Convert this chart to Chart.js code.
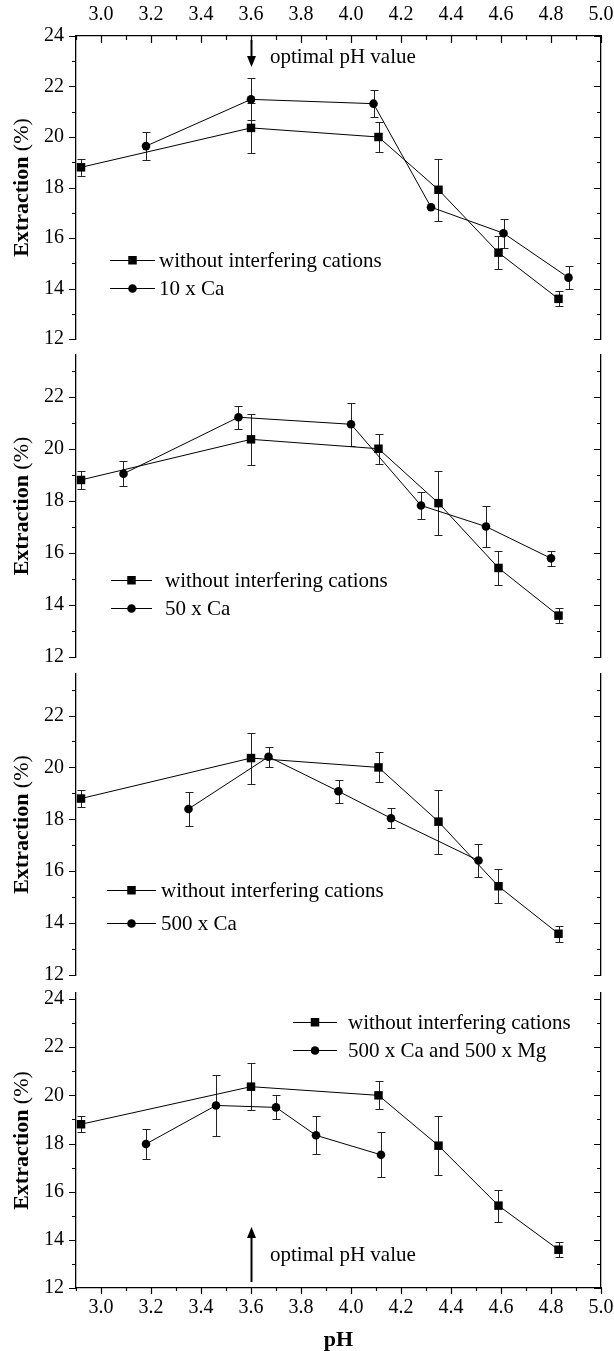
<!DOCTYPE html>
<html lang="en">
<head>
<meta charset="UTF-8">
<title>Extraction vs pH</title>
<script src="https://cdn.jsdelivr.net/npm/chart.js"></script>
<style>
  body { margin: 0; background: #fff; }
  #wrap { position: relative; width: 614px; height: 1351px; overflow: hidden; }
  canvas { position: absolute; left: 0; }
</style>
</head>
<body>
<div id="wrap">
  <canvas id="p1" width="614" height="350" style="top:0px"></canvas>
  <canvas id="p2" width="614" height="320" style="top:345px"></canvas>
  <canvas id="p3" width="614" height="320" style="top:664px"></canvas>
  <canvas id="p4" width="614" height="368" style="top:983px"></canvas>
</div>
<script>
// axis ticks
const phTicks = [3.0, 3.2, 3.4, 3.6, 3.8, 4.0, 4.2, 4.4, 4.6, 4.8, 5.0];
const extTicks = [12, 14, 16, 18, 20, 22, 24];

// reference series, same in every panel
const phBase  = [2.92, 3.60, 4.11, 4.35, 4.59, 4.83];
const extBase = [18.80, 20.36, 20.00, 17.91, 15.42, 13.59];
const errBase = [0.33, 0.98, 0.58, 1.23, 0.66, 0.30];

// 10 x Ca
const ph10Ca  = [3.18, 3.60, 4.09, 4.32, 4.61, 4.87];
const ext10Ca = [19.64, 21.49, 21.32, 17.22, 16.19, 14.43];
const err10Ca = [0.56, 0.83, 0.54, 0, 0.58, 0.46];

// 50 x Ca
const ph50Ca  = [3.09, 3.55, 4.00, 4.28, 4.54, 4.80];
const ext50Ca = [19.04, 21.21, 20.94, 17.82, 17.01, 15.79];
const err50Ca = [0.48, 0.45, 0.82, 0.51, 0.80, 0.28];

// 500 x Ca
const ph500Ca  = [3.35, 3.67, 3.95, 4.16, 4.51];
const ext500Ca = [18.40, 20.41, 19.08, 18.04, 16.41];
const err500Ca = [0.65, 0.38, 0.45, 0.38, 0.63];

// 500 x Ca and 500 x Mg
const ph500CaMg  = [3.18, 3.46, 3.70, 3.86, 4.12];
const ext500CaMg = [17.98, 19.58, 19.50, 18.34, 17.53];
const err500CaMg = [0.63, 1.28, 0.50, 0.79, 0.93];

const FONT = "'Liberation Serif', 'Times New Roman', serif";
const tickFont = { family: FONT, size: 20 };

function points(xs, ys) {
    return xs.map((x, i) => ({ x: x, y: ys[i] }));
}

// error bars under the markers
const errorBars = {
    id: 'errorBars',
    beforeDatasetsDraw(chart) {
        const { ctx, scales: { x, y } } = chart;
        ctx.save();
        ctx.strokeStyle = '#222';
        ctx.lineWidth = 1;
        chart.data.datasets.forEach(ds => {
            ds.data.forEach((p, i) => {
                const e = ds.errors[i];
                if (!e) return;
                const px = Math.round(x.getPixelForValue(p.x)) + 0.5;
                const t = Math.round(y.getPixelForValue(p.y + e)) + 0.5;
                const b = Math.round(y.getPixelForValue(p.y - e)) + 0.5;
                ctx.beginPath();
                ctx.moveTo(px, t); ctx.lineTo(px, b);
                ctx.moveTo(px - 4, t); ctx.lineTo(px + 4, t);
                ctx.moveTo(px - 4, b); ctx.lineTo(px + 4, b);
                ctx.stroke();
            });
        });
        ctx.restore();
    }
};

// major / minor tick marks on the frame
const frameTicks = {
    id: 'frameTicks',
    afterDraw(chart, args, opts) {
        const { ctx, chartArea: a, scales: { x, y } } = chart;
        ctx.save();
        ctx.strokeStyle = '#000';
        ctx.lineWidth = 1.2;
        ctx.beginPath();
        for (let v = Math.ceil(y.min); v <= y.max + 1e-9; v++) {
            const py = Math.round(y.getPixelForValue(v)) + 0.5;
            const len = v % 2 === 0 ? 7 : 4;
            ctx.moveTo(a.left - len, py); ctx.lineTo(a.left, py);
            ctx.moveTo(a.right - len, py); ctx.lineTo(a.right, py);
        }
        for (let i = 29; i <= 50; i++) {
            const px = Math.round(x.getPixelForValue(i / 10)) + 0.5;
            const len = i % 2 === 0 ? 7 : 4;
            if (opts.top) { ctx.moveTo(px, a.top); ctx.lineTo(px, a.top + len); }
            if (opts.bottom) { ctx.moveTo(px, a.bottom); ctx.lineTo(px, a.bottom + len - 1); }
        }
        ctx.stroke();
        ctx.restore();
    }
};

// "Extraction (%)" with bold word and plain unit
const yTitle = {
    id: 'yTitle',
    afterDraw(chart) {
        const { ctx, chartArea: a } = chart;
        const bold = 'bold 22px ' + FONT, plain = '22px ' + FONT;
        ctx.save();
        ctx.translate(22, (a.top + a.bottom) / 2);
        ctx.rotate(-Math.PI / 2);
        ctx.fillStyle = '#000';
        ctx.textBaseline = 'middle';
        ctx.font = bold;
        const w1 = ctx.measureText('Extraction ').width;
        ctx.font = plain;
        const w2 = ctx.measureText('(%)').width;
        let x0 = -(w1 + w2) / 2;
        ctx.font = bold;
        ctx.fillText('Extraction ', x0, 0);
        ctx.font = plain;
        ctx.fillText('(%)', x0 + w1, 0);
        ctx.restore();
    }
};

// legend: line with marker, then label
const lineLegend = {
    id: 'lineLegend',
    afterDraw(chart, args, o) {
        const ctx = chart.ctx;
        ctx.save();
        ctx.fillStyle = '#000';
        ctx.strokeStyle = '#000';
        ctx.font = '21px ' + FONT;
        ctx.textBaseline = 'middle';
        chart.data.datasets.forEach((ds, i) => {
            const yy = o.y + i * o.gap;
            const mx = o.x + o.len / 2;
            ctx.lineWidth = 1;
            ctx.beginPath();
            ctx.moveTo(o.x, yy + 0.5); ctx.lineTo(o.x + o.len, yy + 0.5);
            ctx.stroke();
            ctx.beginPath();
            if (ds.pointStyle === 'rect') {
                ctx.rect(mx - 4.25, yy - 4, 8.5, 8.5);
            } else {
                ctx.arc(mx, yy + 0.5, 4.3, 0, Math.PI * 2);
            }
            ctx.fill();
            ctx.fillText(ds.label, o.text, yy + 1);
        });
        ctx.restore();
    }
};

// "optimal pH value" arrow
const phNote = {
    id: 'phNote',
    afterDraw(chart, args, o) {
        const { ctx, scales: { x, y } } = chart;
        const px = Math.round(x.getPixelForValue(o.x)) + 0.5;
        const y0 = y.getPixelForValue(o.from), y1 = y.getPixelForValue(o.to);
        const dir = y1 > y0 ? 1 : -1;
        ctx.save();
        ctx.strokeStyle = '#000';
        ctx.fillStyle = '#000';
        ctx.lineWidth = 2;
        ctx.beginPath();
        ctx.moveTo(px, y0); ctx.lineTo(px, y1 - dir * 8);
        ctx.stroke();
        ctx.beginPath();
        ctx.moveTo(px, y1);
        ctx.lineTo(px - 4.5, y1 - dir * 11);
        ctx.lineTo(px + 4.5, y1 - dir * 11);
        ctx.closePath();
        ctx.fill();
        ctx.font = '21px ' + FONT;
        ctx.textBaseline = 'middle';
        ctx.fillText('optimal pH value', x.getPixelForValue(o.textX), y.getPixelForValue(o.textY));
        ctx.restore();
    }
};

function noPad(s) {
    s.paddingLeft = 0; s.paddingRight = 0; s.paddingTop = 0; s.paddingBottom = 0;
}

function makePanel(id, p) {
    const border = { display: true, color: '#000', width: 1.3 };
    const scales = {
        x: {
            type: 'linear', min: 2.9, max: 5.0, position: 'bottom',
            display: p.bottomAxis,
            afterBuildTicks: s => { s.ticks = phTicks.map(v => ({ value: v })); },
            afterFit: s => { noPad(s); if (p.bottomAxis) s.height = 63; },
            ticks: { font: tickFont, color: '#000', padding: 8, maxRotation: 0, autoSkip: false,
                     callback: v => v.toFixed(1) },
            grid: { display: false, drawTicks: false },
            border: border,
            title: { display: true, text: 'pH', color: '#000', padding: 0,
                     font: { family: FONT, size: 22, weight: 'bold', lineHeight: 1 } }
        },
        y: {
            type: 'linear', min: 12, max: p.yMax, position: 'left',
            afterBuildTicks: s => { s.ticks = extTicks.filter(v => v <= s.max + 1e-9).map(v => ({ value: v })); },
            afterFit: s => { noPad(s); s.width = 76; },
            ticks: { font: tickFont, color: '#000', padding: 12 },
            grid: { display: false, drawTicks: false },
            border: border
        },
        yRight: {
            axis: 'y', type: 'linear', min: 12, max: p.yMax, position: 'right',
            afterFit: s => { noPad(s); s.width = 13; },
            ticks: { display: false },
            grid: { display: false, drawTicks: false },
            border: border
        }
    };
    if (p.topAxis) {
        scales.xTop = {
            axis: 'x', type: 'linear', min: 2.9, max: 5.0, position: 'top',
            afterBuildTicks: s => { s.ticks = phTicks.map(v => ({ value: v })); },
            afterFit: s => { noPad(s); s.height = 36; },
            ticks: { font: tickFont, color: '#000', padding: 9, maxRotation: 0, autoSkip: false,
                     callback: v => v.toFixed(1) },
            grid: { display: false, drawTicks: false },
            border: border
        };
    }
    const line = { showLine: true, borderColor: '#000', borderWidth: 1, backgroundColor: '#000',
                   pointBackgroundColor: '#000', pointBorderColor: '#000', pointBorderWidth: 0, tension: 0 };
    new Chart(document.getElementById(id), {
        type: 'scatter',
        data: {
            datasets: [
                Object.assign({ label: 'without interfering cations', data: points(phBase, extBase),
                                errors: errBase, pointStyle: 'rect', pointRadius: 6 }, line),
                Object.assign({ label: p.label, data: points(p.xs, p.ys),
                                errors: p.errs, pointStyle: 'circle', pointRadius: 4.3 }, line)
            ]
        },
        options: {
            responsive: false,
            animation: false,
            events: [],
            layout: { padding: p.padding },
            scales: scales,
            plugins: {
                legend: { display: false },
                tooltip: { enabled: false },
                frameTicks: { top: p.topAxis, bottom: p.bottomAxis },
                lineLegend: p.legend,
                phNote: p.note || false
            }
        },
        plugins: [errorBars, frameTicks, yTitle, lineLegend, phNote]
    });
}

makePanel('p1', {
    label: '10 x Ca', xs: ph10Ca, ys: ext10Ca, errs: err10Ca,
    yMax: 24, topAxis: true, bottomAxis: false,
    padding: { top: 0, bottom: 11, left: 0, right: 0 },
    legend: { x: 110, y: 260, gap: 28, len: 45, text: 159 },
    note: { x: 3.6, from: 23.84, to: 22.77, textX: 3.676, textY: 23.13 }
});
makePanel('p2', {
    label: '50 x Ca', xs: ph50Ca, ys: ext50Ca, errs: err50Ca,
    yMax: 23.6, topAxis: false, bottomAxis: false,
    padding: { top: 10, bottom: 8, left: 0, right: 0 },
    legend: { x: 111, y: 235, gap: 28, len: 41, text: 165 }
});
makePanel('p3', {
    label: '500 x Ca', xs: ph500Ca, ys: ext500Ca, errs: err500Ca,
    yMax: 23.6, topAxis: false, bottomAxis: false,
    padding: { top: 10, bottom: 9, left: 0, right: 0 },
    legend: { x: 107, y: 226, gap: 33, len: 49, text: 161 }
});
makePanel('p4', {
    label: '500 x Ca and 500 x Mg', xs: ph500CaMg, ys: ext500CaMg, errs: err500CaMg,
    yMax: 24.25, topAxis: false, bottomAxis: true,
    padding: { top: 10, bottom: 0, left: 0, right: 0 },
    legend: { x: 293, y: 39, gap: 28, len: 44, text: 348 },
    note: { x: 3.6, from: 12.25, to: 14.53, textX: 3.676, textY: 13.37 }
});
</script>
</body>
</html>
